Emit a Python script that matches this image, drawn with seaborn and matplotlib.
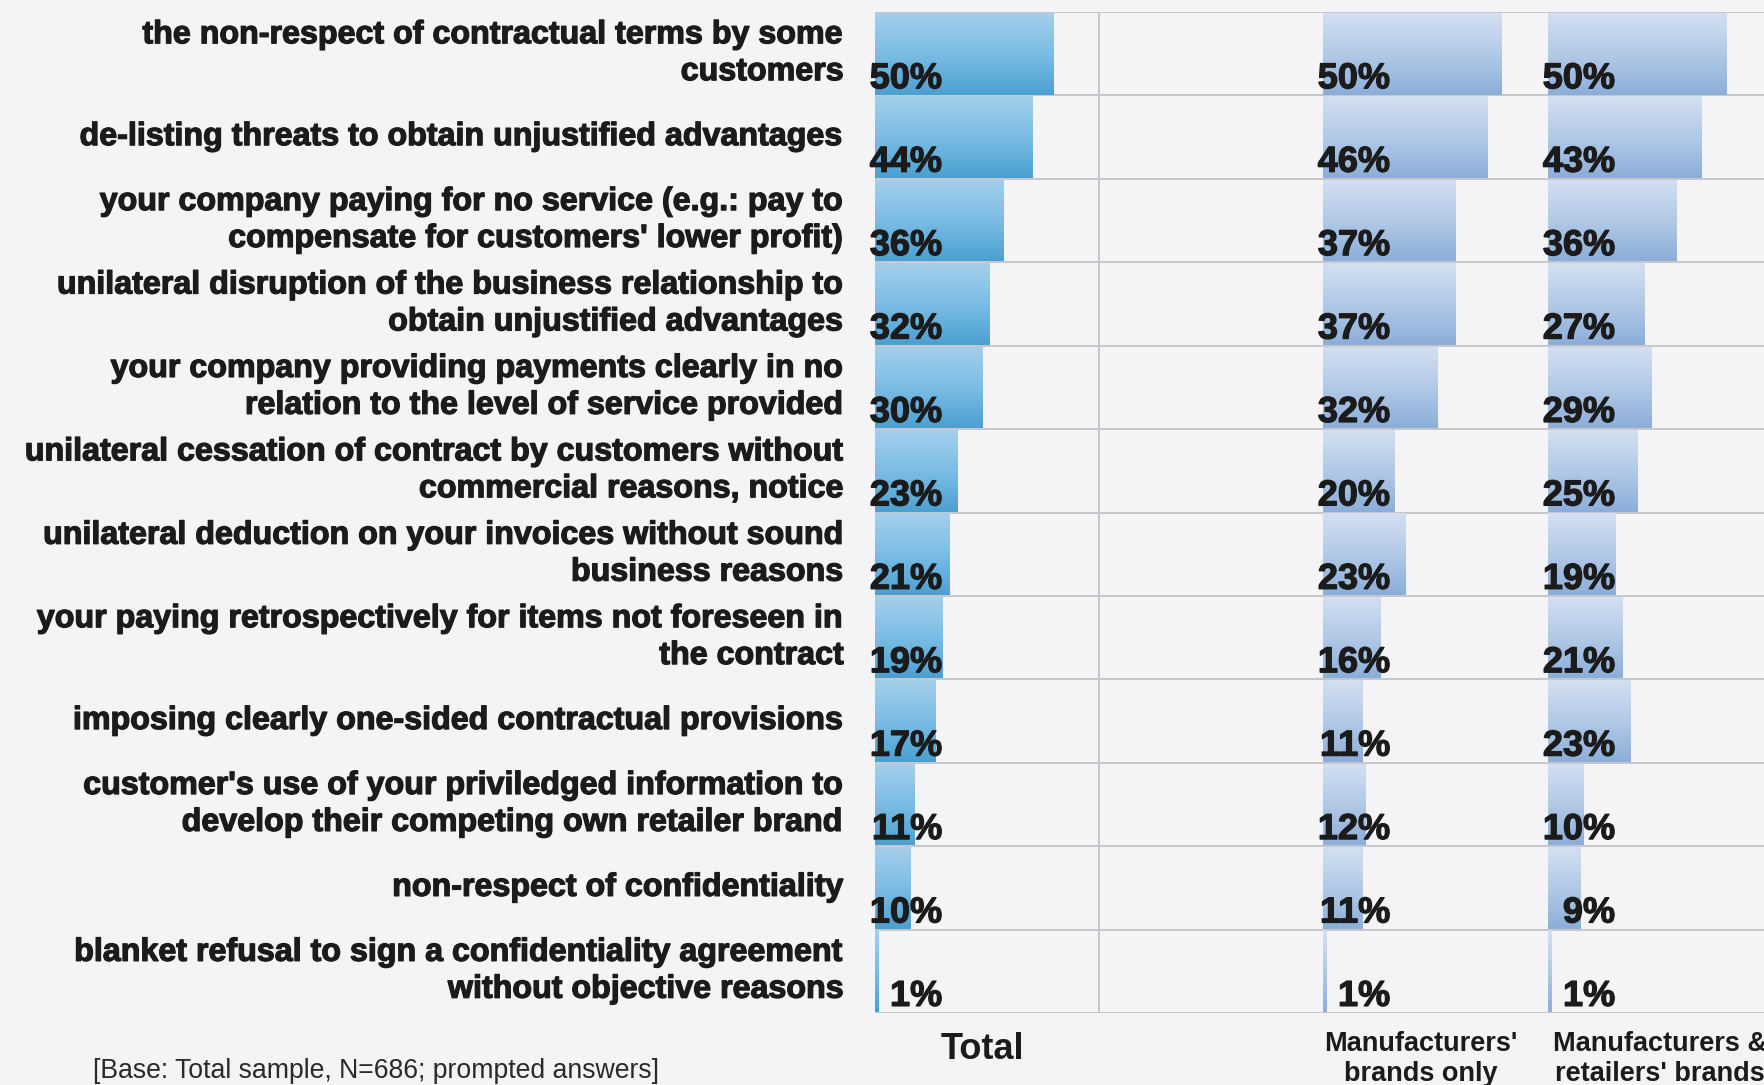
import numpy as np
import pandas as pd
import matplotlib
matplotlib.use("Agg")
import matplotlib.pyplot as plt
import matplotlib.patheffects as pe
from matplotlib.colors import LinearSegmentedColormap
import seaborn as sns

# ---- data -------------------------------------------------------------
categories = [
    "the non-respect of contractual terms by some\ncustomers",
    "de-listing threats to obtain unjustified advantages",
    "your company paying for no service (e.g.: pay to\ncompensate for customers' lower profit)",
    "unilateral disruption of the business relationship to\nobtain unjustified advantages",
    "your company providing payments clearly in no\nrelation to the level of service provided",
    "unilateral cessation of contract by customers without\ncommercial reasons, notice",
    "unilateral deduction on your invoices without sound\nbusiness reasons",
    "your paying retrospectively for items not foreseen in\nthe contract",
    "imposing clearly one-sided contractual provisions",
    "customer's use of your priviledged information to\ndevelop their competing own retailer brand",
    "non-respect of confidentiality",
    "blanket refusal to sign a confidentiality agreement\nwithout objective reasons",
]
total = [50, 44, 36, 32, 30, 23, 21, 19, 17, 11, 10, 1]
manufacturers_only = [50, 46, 37, 37, 32, 20, 23, 16, 11, 12, 11, 1]
manufacturers_and_retailers = [50, 43, 36, 27, 29, 25, 19, 21, 23, 10, 9, 1]

groups = ["Total", "Manufacturers'\nbrands only", "Manufacturers &\nretailers' brands"]
series = [total, manufacturers_only, manufacturers_and_retailers]
footnote = "[Base: Total sample, N=686; prompted answers]"

df = pd.concat(
    [pd.DataFrame({"category": categories, "group": g, "value": v})
     for g, v in zip(groups, series)],
    ignore_index=True,
)

# ---- style ------------------------------------------------------------
sns.set_theme(style="white")
plt.rcParams["font.family"] = ["Liberation Sans", "DejaVu Sans"]
BG = "#f4f4f6"
GRID = "#c6c6ca"
TEXT = "#1b1b1b"
HEAVY = [pe.withStroke(linewidth=0.9, foreground=TEXT)]

cmap_total = LinearSegmentedColormap.from_list("tot", ["#4aa0d2", "#7bbde4", "#a5cfeb"])
cmap_sub = LinearSegmentedColormap.from_list("sub", ["#8aaed9", "#b3c9e7", "#d4e0f1"])

W, H = 1765, 1085
fig = plt.figure(figsize=(W / 100, H / 100), dpi=100, facecolor=BG)

PX_PER_PCT = 3.57
top_px, bot_px = 12, 1013


def panel(x0_px, w_px):
    ax = fig.add_axes([x0_px / W, 1 - bot_px / H, w_px / W, (bot_px - top_px) / H])
    ax.set_facecolor(BG)
    return ax, w_px / PX_PER_PCT


panels = [panel(875, 448), panel(1323, 225), panel(1548, 217)]
cmaps = [cmap_total, cmap_sub, cmap_sub]
label_x = [30.0, 27.3, 31.4]
label_y = [-0.036, -0.046, -0.046]

grad = np.linspace(0, 1, 256).reshape(-1, 1)

for (ax, xmax), g, cmap, lx, ly in zip(panels, groups, cmaps, label_x, label_y):
    sub = df[df["group"] == g]
    sns.barplot(data=sub, x="value", y="category", orient="h", width=0.98,
                color="#5aa9dc", errorbar=None, ax=ax, zorder=2)

    # vertical gradient fill clipped to each bar
    for p in list(ax.patches):
        x0, y0 = p.get_x(), p.get_y()
        w, h = p.get_width(), p.get_height()
        im = ax.imshow(grad, extent=(x0, x0 + w, y0 + h, y0), origin="lower",
                       aspect="auto", cmap=cmap, zorder=2.1, interpolation="bilinear")
        im.set_clip_path(p)
        p.set_facecolor("none")
        p.set_edgecolor("none")

    # row separators and panel edge
    for yb in np.arange(-0.5, len(categories), 1.0):
        ax.axhline(yb, color=GRID, lw=1.4, zorder=1)
    ax.axvline(0, color=GRID, lw=1.4, zorder=1)

    # value labels at the lower left of each bar
    for i, v in enumerate(sub["value"]):
        ax.text(18.8, i + 0.415, f"{v}%", ha="right", va="baseline",
                fontsize=26, fontweight="bold", color=TEXT, zorder=5,
                path_effects=HEAVY)

    ax.set_xlim(0, xmax)
    ax.set_ylim(len(categories) - 0.5, -0.5)
    ax.set_xticks([])
    ax.set_yticks([])
    ax.set_xlabel("")
    ax.set_ylabel("")
    for s in ax.spines.values():
        s.set_visible(False)

    ax.text(lx, ly, g, transform=ax.get_xaxis_transform(), ha="center", va="center",
            fontsize=26 if g == "Total" else 19.5, fontweight="bold",
            color=TEXT, linespacing=1.2, clip_on=False)

ax_total = panels[0][0]
ax_total.axvline(panels[0][1] / 2, color=GRID, lw=1.4, zorder=1)

# category labels to the left of the first panel
for i, c in enumerate(categories):
    ax_total.text(-8.7, i + 0.0, c, ha="right", va="center", fontsize=23.2,
                  fontweight="bold", color=TEXT, linespacing=1.3, clip_on=False,
                  path_effects=HEAVY)

fig.text(93 / W, 1 - 1071 / H, footnote, ha="left", va="center",
         fontsize=19.2, color="#2a2a2a")

fig.savefig("out.png", dpi=100, facecolor=BG)
